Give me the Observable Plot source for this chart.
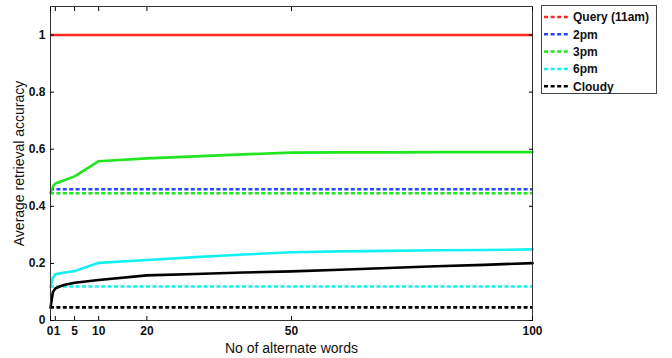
<!DOCTYPE html>
<html>
<head>
<meta charset="utf-8">
<script src="https://cdn.jsdelivr.net/npm/d3@7"></script>
<script src="https://cdn.jsdelivr.net/npm/@observablehq/plot@0.6"></script>
<style>
  html, body { margin: 0; padding: 0; background: #fff; }
  #wrap { position: relative; width: 672px; height: 358px; font-family: "Liberation Sans", Arial, sans-serif; }
  #legend { position: absolute; left: 541px; top: 5px; }
</style>
</head>
<body>
<div id="wrap"><div id="chart"></div><div id="legend"></div></div>
<script>
// Data
const xs = [0, 0.5, 1, 2, 3, 5, 10, 20, 30, 40, 50, 60, 70, 80, 90, 100];
const green3pm = [0.447, 0.47, 0.48, 0.486, 0.492, 0.505, 0.558, 0.568, 0.575, 0.582, 0.588, 0.589, 0.589, 0.59, 0.59, 0.59];
const cyan6pm  = [0.118, 0.15, 0.162, 0.165, 0.168, 0.173, 0.202, 0.212, 0.222, 0.231, 0.239, 0.242, 0.244, 0.246, 0.247, 0.249];
const blackCloudy = [0.045, 0.1, 0.112, 0.12, 0.125, 0.132, 0.142, 0.158, 0.163, 0.168, 0.172, 0.178, 0.184, 0.19, 0.195, 0.201];
const queryLevel = 1.0;
const baselineNames = ["Query (11am)", "2pm", "3pm", "6pm", "Cloudy"];
const baselineValues = [1.0, 0.46, 0.446, 0.119, 0.046];
const colors = ["#ff2a1f", "#2346ff", "#1fe61f", "#14f0f0", "#000000"];
const xTicks = [0, 1, 5, 10, 20, 50, 100];
const yTicks = [0, 0.2, 0.4, 0.6, 0.8, 1];

const curves = [
  {name: "3pm", values: green3pm, color: colors[2]},
  {name: "6pm", values: cyan6pm, color: colors[3]},
  {name: "Cloudy", values: blackCloudy, color: colors[4]}
];
const curveData = curves.flatMap(c => xs.map((x, i) => ({x, y: c.values[i], name: c.name, color: c.color})));
const dashData = baselineNames.slice(1).map((n, i) => ({name: n, y: baselineValues[i + 1], color: colors[i + 1]}));

const tickFont = {fontSize: 12, fontWeight: "bold", fill: "#111", label: null};
const W = 672, H = 358;
const chart = Plot.plot({
  width: W, height: H,
  marginLeft: 50, marginRight: 140, marginTop: 6, marginBottom: 38,
  style: {fontFamily: "Liberation Sans, Arial, sans-serif", background: "#fff"},
  x: {domain: [0, 100]},
  y: {domain: [0, 1.1]},
  marks: [
    Plot.ruleY(dashData, {y: "y", x1: 0, x2: 100, stroke: "color", strokeWidth: 2.6, strokeDasharray: "4,2.4"}),
    Plot.ruleY([queryLevel], {x1: 0, x2: 100, stroke: colors[0], strokeWidth: 2.6}),
    Plot.line(curveData, {x: "x", y: "y", z: "name", stroke: "color", strokeWidth: 2.6, curve: "linear"}),
    Plot.frame({stroke: "#333", strokeWidth: 1}),
    Plot.axisY(yTicks, {anchor: "left", tickSize: -4, tickPadding: 9, ...tickFont, tickFormat: d => d === 0 || d === 1 ? String(d) : d.toFixed(1)}),
    Plot.axisY(yTicks, {anchor: "right", tickSize: -4, label: null, tickFormat: () => ""}),
    // bottom ticks (marks only)
    Plot.axisX(xTicks, {anchor: "bottom", tickSize: -4, label: null, tickFormat: () => ""}),
    // bottom labels: 0 and 1 sit side by side as in the reference ("01")
    Plot.axisX(xTicks.slice(0, 1), {anchor: "bottom", tickSize: 0, tickPadding: 6, textAnchor: "end", dx: 3, ...tickFont, tickFormat: d => String(d)}),
    Plot.axisX(xTicks.slice(1, 2), {anchor: "bottom", tickSize: 0, tickPadding: 6, textAnchor: "start", dx: -1.5, ...tickFont, tickFormat: d => String(d)}),
    Plot.axisX(xTicks.slice(2), {anchor: "bottom", tickSize: 0, tickPadding: 6, ...tickFont, tickFormat: d => String(d)}),
    Plot.axisX(xTicks, {anchor: "top", tickSize: -4, label: null, tickFormat: () => ""}),
    Plot.text(["No of alternate words"], {frameAnchor: "bottom", lineAnchor: "middle", textAnchor: "middle", dy: 28, fontSize: 14, fill: "#111", text: d => d}),
    Plot.text(["Average retrieval accuracy"], {frameAnchor: "left", lineAnchor: "middle", textAnchor: "middle", dx: -31, rotate: -90, fontSize: 14, fill: "#111", text: d => d})
  ]
});
document.getElementById("chart").appendChild(chart);

// Legend (outside plot area)
const lw = 116, lh = 89;
const svg = d3.select("#legend").append("svg").attr("width", lw).attr("height", lh);
svg.append("rect").attr("x", 0.5).attr("y", 0.5).attr("width", lw - 1).attr("height", lh - 1)
  .attr("fill", "#fff").attr("stroke", "#444");
baselineNames.forEach((n, i) => {
  const cy = 12 + i * 17.3;
  svg.append("line").attr("x1", 3).attr("x2", 29).attr("y1", cy).attr("y2", cy)
    .attr("stroke", colors[i]).attr("stroke-width", 2.5).attr("stroke-dasharray", "4,2.6");
  svg.append("text").attr("x", 32).attr("y", cy).attr("dy", "0.36em")
    .attr("font-size", 12).attr("font-weight", "bold").attr("fill", "#111")
    .attr("font-family", "Liberation Sans, Arial, sans-serif").text(n);
});
</script>
</body>
</html>
